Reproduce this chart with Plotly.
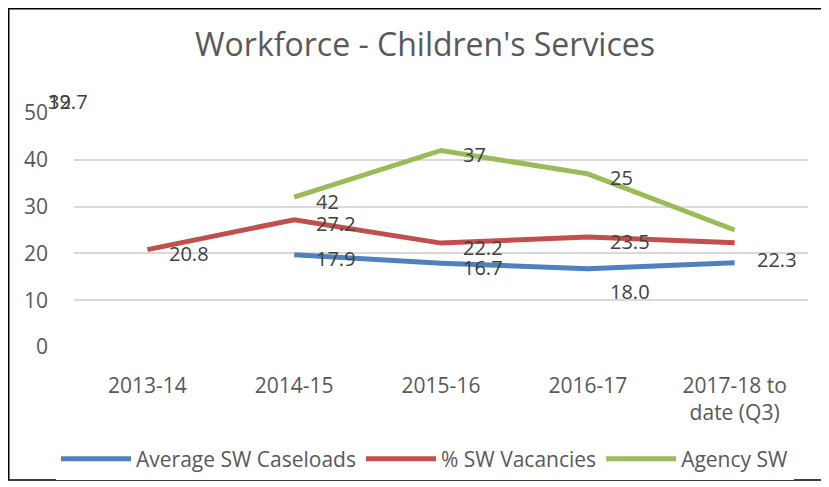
import plotly.graph_objects as go

# ---- data ----
categories = ["2013-14", "2014-15", "2015-16", "2016-17", "2017-18 to<br>date (Q3)"]
caseloads = [None, 19.7, 17.9, 16.7, 18.0]
vacancies = [20.8, 27.2, 22.2, 23.5, 22.3]
agency = [None, 32, 42, 37, 25]
y_ticks = [0, 10, 20, 30, 40, 50]

series_names = ["Average SW Caseloads", "% SW Vacancies", "Agency SW"]
colors = ["#4F81BD", "#C0504D", "#9BBB59"]

FONT = "Open Sans"
LABEL_COLOR = "#404040"
TICK_COLOR = "#595959"

fig = go.Figure()
for name, vals, col in zip(series_names, [caseloads, vacancies, agency], colors):
    fig.add_trace(go.Scatter(
        x=categories, y=vals, name=name, mode="lines",
        line=dict(color=col, width=5),
        connectgaps=False,
    ))

# ---- data labels (reproducing the reference's displaced labels) ----
def fmt(v, dec):
    return f"{v:.{dec}f}"

annotations = []
extra_drop = {("blue", 4): 19, ("red", 4): 13}  # labels that sit lower in the reference

def add_label(text, xcat, yval, drop=4):
    annotations.append(dict(
        x=xcat, y=yval, xref="x", yref="y", text=text, showarrow=False,
        xanchor="left", yanchor="middle", xshift=20, yshift=-drop,
        font=dict(family=FONT, size=20, color=LABEL_COLOR),
    ))

def add_corner(text):
    annotations.append(dict(
        x=0, y=50, xref="paper", yref="y", text=text, showarrow=False,
        xanchor="left", yanchor="middle", xshift=-28, yshift=12,
        font=dict(family=FONT, size=20, color=LABEL_COLOR),
    ))

# blue & green: label of point i drawn beside point i-1; first goes to corner
for key, vals, dec in [("blue", caseloads, 1), ("green", agency, 0)]:
    for i in range(1, len(vals)):
        if vals[i] is None:
            continue
        txt = fmt(vals[i], dec)
        if i == 1:
            add_corner(txt)
        else:
            add_label(txt, categories[i - 1], vals[i - 1], 4 + extra_drop.get((key, i), 0))

# red: labels at own point
for i, v in enumerate(vacancies):
    add_label(fmt(v, 1), categories[i], v, 4 + extra_drop.get(("red", i), 0))

# ---- geometry (figure sits at an 8px page offset) ----
W, H = 821, 479
L, R, T, B = 66, 21, 105, 140
pw, ph = W - L - R, H - T - B
def px_to_paper_x(px):
    return (px - L) / pw
def px_to_paper_y(py):
    return (H - B - py) / ph

shapes = [dict(
    type="rect", xref="paper", yref="paper",
    x0=px_to_paper_x(0.75), x1=px_to_paper_x(820.25),
    y0=px_to_paper_y(472), y1=px_to_paper_y(0.75),
    line=dict(color="black", width=1.5), fillcolor="rgba(0,0,0,0)", layer="below",
)]

fig.update_layout(
    width=W, height=H,
    margin=dict(l=L, r=R, t=T, b=B, autoexpand=False),
    paper_bgcolor="white", plot_bgcolor="white",
    title=dict(text="Workforce - Children's Services", x=417 / W, xanchor="center",
               xref="container", y=1 - 37 / H, yref="container", yanchor="middle",
               font=dict(family=FONT, size=32, color=TICK_COLOR)),
    xaxis=dict(type="category", range=[-0.5, 4.5], showgrid=False, zeroline=False,
               showline=False, ticks="", ticklabelstandoff=24,
               tickfont=dict(family=FONT, size=21, color=TICK_COLOR)),
    yaxis=dict(range=[0, 50], tickvals=y_ticks, showgrid=True, gridcolor="#D9D9D9",
               gridwidth=1.5, zeroline=False, showline=False, ticks="",
               ticklabelstandoff=25,
               tickfont=dict(family=FONT, size=21, color=TICK_COLOR)),
    legend=dict(orientation="h", xref="container", yref="container",
                x=417 / W, xanchor="center", y=1 - 451 / H, yanchor="middle",
                itemwidth=70, font=dict(family=FONT, size=21, color=TICK_COLOR),
                traceorder="normal"),
    annotations=annotations,
    shapes=shapes,
    showlegend=True,
)

fig.write_html("out.html")
